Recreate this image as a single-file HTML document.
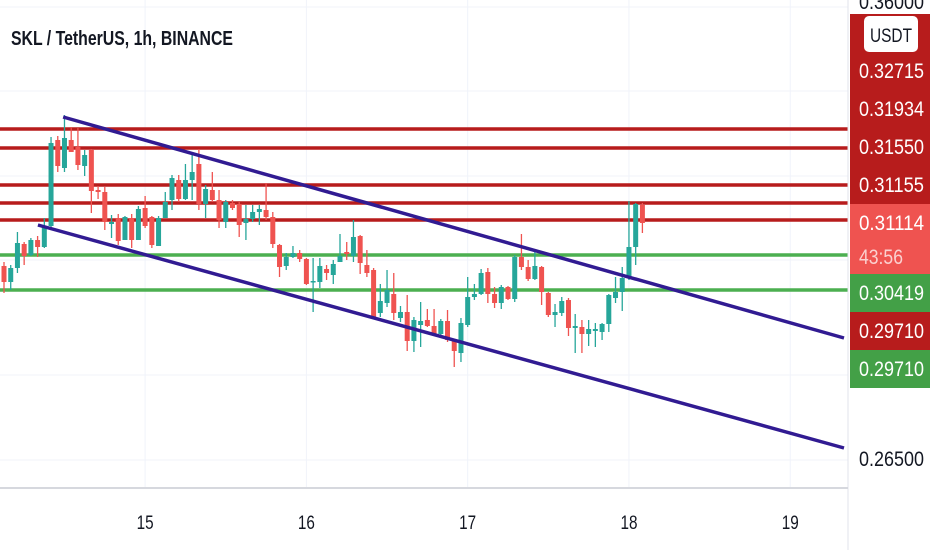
<!DOCTYPE html>
<html><head><meta charset="utf-8"><style>
body{margin:0;background:#fff;}
svg{display:block;font-family:"Liberation Sans",sans-serif;}
</style></head><body>
<svg id="chart" width="932" height="550">
<g id="grid"></g>
<g id="levels"></g>
<g id="candles"></g>
<g id="channel"></g>
<text x="11" y="45" font-size="20" font-weight="bold" fill="#131722" textLength="222" lengthAdjust="spacingAndGlyphs">SKL / TetherUS, 1h, BINANCE</text>
<line x1="848" y1="0" x2="848" y2="550" stroke="#e0e3eb"/>
<line x1="0" y1="488" x2="848" y2="488" stroke="#d6d8de" stroke-width="2"/>
<g id="xaxis"></g>
<g id="yaxis"></g>
</svg>
<script>
const open_ =[0.3019,0.2987,0.3015,0.3063,0.3041,0.3071,0.3057,0.3099,0.3271,0.3215,0.3271,0.3257,0.3219,0.3251,0.3171,0.3167,0.3103,0.3115,0.3071,0.3115,0.3071,0.3135,0.3117,0.3059,0.3115,0.3151,0.3191,0.3153,0.3191,0.3223,0.3143,0.3171,0.3151,0.3107,0.3145,0.3143,0.3105,0.3113,0.3127,0.3131,0.3117,0.3061,0.3019,0.3037,0.3045,0.3033,0.2987,0.2987,0.3013,0.3001,0.3027,0.3047,0.3039,0.3079,0.3021,0.3011,0.2925,0.2945,0.2963,0.2915,0.2927,0.2869,0.2901,0.2911,0.2899,0.2883,0.2909,0.2871,0.2845,0.2901,0.2957,0.2963,0.3007,0.2963,0.2945,0.2977,0.2953,0.3037,0.3017,0.2993,0.3017,0.2965,0.2921,0.2925,0.2951,0.2895,0.2897,0.2883,0.2889,0.2887,0.2903,0.2955,0.2967,0.2995,0.3057,0.3141];
const high_ =[0.3027,0.3021,0.3087,0.3067,0.3075,0.3079,0.3115,0.3277,0.3279,0.3321,0.3297,0.3295,0.3251,0.3253,0.3179,0.3177,0.3121,0.3123,0.3119,0.3123,0.3139,0.3159,0.3119,0.3119,0.3167,0.3201,0.3201,0.3223,0.3241,0.3253,0.3181,0.3207,0.3171,0.3151,0.3151,0.3147,0.3141,0.3141,0.3141,0.3185,0.3127,0.3063,0.3045,0.3059,0.3051,0.3035,0.3035,0.3035,0.3021,0.3031,0.3083,0.3067,0.3111,0.3081,0.3051,0.3015,0.2983,0.3011,0.3005,0.2939,0.2961,0.2917,0.2947,0.2933,0.2933,0.2913,0.2931,0.2873,0.2915,0.2997,0.2983,0.3013,0.3015,0.2977,0.2981,0.2979,0.3041,0.3083,0.3031,0.3051,0.3019,0.2967,0.2943,0.2957,0.2955,0.2923,0.2911,0.2911,0.2905,0.2905,0.2963,0.2997,0.3017,0.3149,0.3145,0.3145];
const low_  =[0.2965,0.2971,0.3005,0.3021,0.3039,0.3037,0.3055,0.3091,0.3207,0.3207,0.3247,0.3211,0.3199,0.3125,0.3153,0.3091,0.3075,0.3061,0.3071,0.3055,0.3071,0.3095,0.3055,0.3059,0.3115,0.3131,0.3147,0.3151,0.3151,0.3131,0.3115,0.3147,0.3095,0.3095,0.3131,0.3077,0.3071,0.3107,0.3101,0.3111,0.3055,0.2997,0.3011,0.3035,0.3027,0.2981,0.2927,0.2975,0.2991,0.2983,0.3027,0.3031,0.3027,0.3003,0.2997,0.2915,0.2917,0.2937,0.2911,0.2907,0.2849,0.2847,0.2857,0.2897,0.2881,0.2877,0.2867,0.2817,0.2827,0.2897,0.2951,0.2961,0.2945,0.2935,0.2933,0.2951,0.2947,0.3011,0.2989,0.2991,0.2941,0.2917,0.2897,0.2919,0.2879,0.2845,0.2845,0.2859,0.2857,0.2871,0.2887,0.2945,0.2929,0.2991,0.3021,0.3085];
const close_=[0.2987,0.3015,0.3065,0.3039,0.3071,0.3057,0.3099,0.3265,0.3219,0.3275,0.3247,0.3221,0.3241,0.3169,0.3167,0.3107,0.3107,0.3069,0.3117,0.3071,0.3133,0.3099,0.3061,0.3115,0.3147,0.3195,0.3153,0.3191,0.3207,0.3143,0.3173,0.3151,0.3111,0.3147,0.3135,0.3101,0.3113,0.3127,0.3133,0.3117,0.3063,0.3017,0.3037,0.3045,0.3033,0.2983,0.2989,0.3019,0.3005,0.3023,0.3039,0.3043,0.3077,0.3025,0.3005,0.2917,0.2949,0.2971,0.2925,0.2927,0.2869,0.2911,0.2909,0.2899,0.2883,0.2909,0.2871,0.2849,0.2905,0.2957,0.2963,0.3005,0.2963,0.2945,0.2977,0.2953,0.3037,0.3017,0.2993,0.3019,0.2967,0.2921,0.2927,0.2949,0.2895,0.2899,0.2883,0.2893,0.2893,0.2903,0.2961,0.2967,0.2995,0.3057,0.3143,0.3105];
const redLevels=[0.3293,0.3255,0.3181,0.3145,0.3111];
const greenLevels=[0.3041,0.2971];
const upperChannel=[[8.8,0.3317],[125,0.2875]];
const lowerChannel=[[5.05,0.3101],[125,0.2655]];
const dayLabels=["15","16","17","18","19"];
const dayIndex=[21156,21180,21204,21228,21252];
const firstIndex=21135;

const X0=4, STEP=6.72;
function xs(i){return X0+i*STEP;}
function ys(p){return 290-(p-0.2971)*5000;}
const NS="http://www.w3.org/2000/svg";
function mk(parent,tag,attrs){const e=document.createElementNS(NS,tag);for(const k in attrs)e.setAttribute(k,attrs[k]);document.getElementById(parent).appendChild(e);return e;}

[7,91,176,260,375,460].forEach(y=>{const l=mk('grid','line',{x1:0,x2:848,y1:y,y2:y,stroke:'#f0f3fa'});

});
dayLabels.forEach((d,k)=>{const x=xs(dayIndex[k]-firstIndex);
const g=mk('grid','line',{x1:x,x2:x,y1:0,y2:488,stroke:'#f0f3fa'});


const t=mk('xaxis','text',{x:x,y:529,'font-size':19,'text-anchor':'middle',fill:'#131722',textLength:d.length*8.5,lengthAdjust:'spacingAndGlyphs'});t.textContent=d;

});

redLevels.forEach(p=>{const l=mk('levels','line',{x1:0,x2:848,y1:ys(p),y2:ys(p),stroke:'#b71c1c','stroke-width':3.5});

});
greenLevels.forEach(p=>{const l=mk('levels','line',{x1:0,x2:848,y1:ys(p),y2:ys(p),stroke:'#4caf50','stroke-width':3.5});

});

for(let i=0;i<open_.length;i++){const x=xs(i);const up=close_[i]>=open_[i];const c=up?'#26a69a':'#ef5350';
const w=mk('candles','line',{x1:x,x2:x,y1:ys(high_[i]),y2:ys(low_[i]),stroke:c,'stroke-width':1.3});


const t=ys(Math.max(open_[i],close_[i])),b=ys(Math.min(open_[i],close_[i]));
const r=mk('candles','rect',{x:x-2.5,y:t,width:5,height:Math.max(1.5,b-t),fill:c});

}

[upperChannel,lowerChannel].forEach(ch=>{const l=mk('channel','line',{x1:xs(ch[0][0]),y1:ys(ch[0][1]),x2:xs(ch[1][0]),y2:ys(ch[1][1]),stroke:'#311b92','stroke-width':3.5});

});

const RED='#b71c1c';
function lab(y,h,bg,txt,col){
 if(bg){const r=mk('yaxis','rect',{x:850,y:y,width:80,height:h,fill:bg});}
 const t=mk('yaxis','text',{x:859,y:y+h/2+7,'font-size':21,fill:col,textLength:65,lengthAdjust:'spacingAndGlyphs'});t.textContent=txt;
 
 
}
lab(-12,28,null,'0.36000','#131722');
const tl=mk('yaxis','rect',{x:850,y:14,width:80,height:38,fill:RED});


lab(52,38,RED,'0.32715','#fff');
lab(90,38,RED,'0.31934','#fff');
lab(128,38,RED,'0.31550','#fff');
lab(166,38,RED,'0.31155','#fff');
const pk=mk('yaxis','rect',{x:850,y:204,width:80,height:70,fill:'#ef5350'});


lab(204,38,null,'0.31114','#fff');
const cd=mk('yaxis','text',{x:859,y:264,'font-size':21,fill:'#fbd0cf',textLength:44,lengthAdjust:'spacingAndGlyphs'});cd.textContent='43:56';


lab(274,38,'#43a047','0.30419','#fff');
lab(312,38,RED,'0.29710','#fff');
lab(350,38,'#43a047','0.29710','#fff');
lab(440,38,null,'0.26500','#131722');
const ub=mk('yaxis','rect',{x:864,y:16,width:54,height:36,rx:5,fill:'#fff'});


const ut=mk('yaxis','text',{x:891,y:42,'font-size':19,'text-anchor':'middle',fill:'#131722',textLength:42,lengthAdjust:'spacingAndGlyphs'});ut.textContent='USDT';


</script>
</body></html>
